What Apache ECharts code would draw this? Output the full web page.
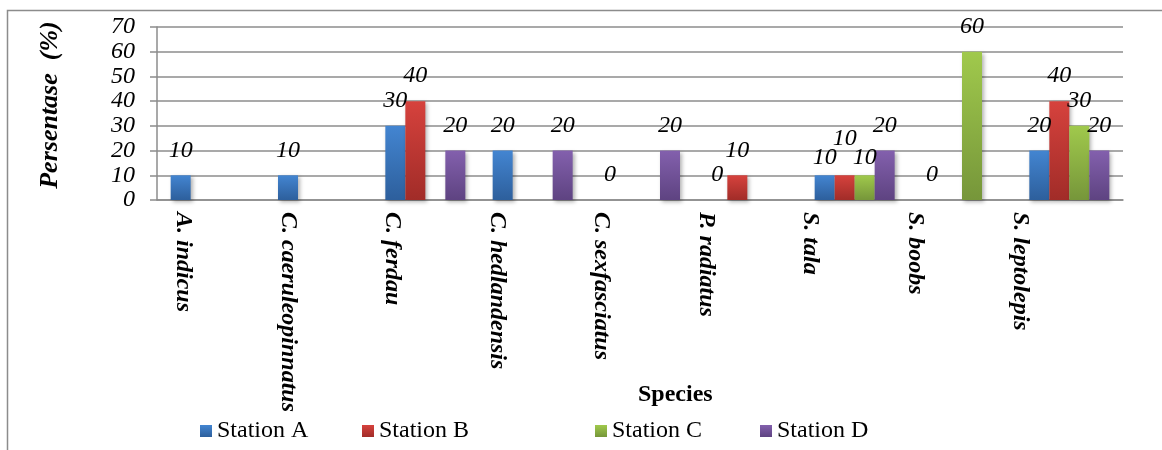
<!DOCTYPE html>
<html>
<head>
<meta charset="utf-8">
<script src="https://cdn.jsdelivr.net/npm/echarts@6/dist/echarts.min.js"></script>
<style>
  html, body { margin: 0; padding: 0; background: #fff; }
  #chart { width: 1162px; height: 450px; }
</style>
</head>
<body>
<div id="chart"></div>
<script>
const species = ['A. indicus', 'C. caeruleopinnatus', 'C. ferdau', 'C. hedlandensis',
  'C. sexfasciatus', 'P. radiatus', 'S. tala', 'S. boobs', 'S. leptolepis']
// null = no bar / no label in the original
const stationA = [10, 10, 30, 20, 0, 0, 10, 0, 20]
const stationB = [null, null, 40, null, null, 10, 10, null, 40]
const stationC = [null, null, null, null, null, null, 10, 60, 30]
const stationD = [null, null, 20, 20, 20, null, 20, null, 20]
const yTicks = [0, 10, 20, 30, 40, 50, 60, 70]

const serif = 'Liberation Serif, Times New Roman, serif'

// colours: [top, bottom] of the gradient
const palette = {
  'Station A': ['#4385d1', '#2d5f9c'],
  'Station B': ['#d6423d', '#a12c28'],
  'Station C': ['#a0c94c', '#76963a'],
  'Station D': ['#8360ad', '#5e4381']
}

// label nudges where the labels of S. tala crowd each other
const labelNudge = {
  'Station A': { 6: [0, 7] },
  'Station B': { 6: [0, -12] },
  'Station C': { 6: [0, 7] }
}

const grad = name => new echarts.graphic.LinearGradient(0, 0, 0, 1, [
  { offset: 0, color: palette[name][0] },
  { offset: 1, color: palette[name][1] }
])

const mkSeries = (name, values) => ({
  name,
  type: 'bar',
  barWidth: 20,
  barGap: '0%',
  data: values.map((v, i) => {
    const nudge = (labelNudge[name] || {})[i]
    return nudge ? { value: v, label: { offset: nudge } } : v
  }),
  itemStyle: {
    color: grad(name),
    shadowColor: 'rgba(0,0,0,0.3)',
    shadowBlur: 4,
    shadowOffsetX: 2,
    shadowOffsetY: 2
  },
  label: {
    show: true,
    position: 'top',
    distance: 13,
    fontFamily: serif,
    fontStyle: 'italic',
    fontSize: 24,
    color: '#000'
  }
})

const legendX = { 'Station A': 200, 'Station B': 362, 'Station C': 595, 'Station D': 760 }

const chart = echarts.init(document.getElementById('chart'))
chart.setOption({
  animation: false,
  backgroundColor: '#fff',
  graphic: [{
    type: 'rect',
    shape: { x: 7.5, y: 10.5, width: 1200, height: 500 },
    style: { fill: 'none', stroke: '#8c8c8c', lineWidth: 1.5 },
    silent: true
  }],
  title: {
    text: 'Species',
    left: 638,
    top: 383,
    padding: 0,
    textStyle: { fontFamily: serif, fontWeight: 'bold', fontSize: 24, color: '#000' }
  },
  // grid 0 holds the bars; grid 1 only carries the species labels,
  // which sit a little off the category centres in the original
  grid: [
    { left: 157, right: 39, top: 27, bottom: 250 },
    { left: 131, right: 90, top: 27, bottom: 250 }
  ],
  legend: Object.keys(legendX).map(name => ({
    data: [{ name, itemStyle: { color: grad(name) } }],
    left: legendX[name],
    top: 419,
    padding: 0,
    itemWidth: 12,
    itemHeight: 12,
    itemGap: 5,
    icon: 'rect',
    textStyle: { fontFamily: serif, fontSize: 24, color: '#000' }
  })),
  xAxis: [{
    type: 'category',
    gridIndex: 0,
    data: species,
    axisLine: { lineStyle: { color: '#8c8c8c', width: 1.5 } },
    axisTick: { show: false },
    axisLabel: { show: false }
  }, {
    type: 'category',
    gridIndex: 1,
    data: species,
    axisLine: { show: false },
    axisTick: { show: false },
    axisLabel: {
      rotate: -90,
      margin: 12,
      interval: 0,
      fontFamily: serif,
      fontStyle: 'italic',
      fontWeight: 'bold',
      fontSize: 24,
      color: '#000'
    }
  }],
  yAxis: [{
    type: 'value',
    gridIndex: 0,
    min: 0,
    max: 70,
    interval: 10,
    name: 'Persentase  (%)',
    nameLocation: 'middle',
    nameGap: 94,
    nameTextStyle: {
      fontFamily: serif, fontWeight: 'bold', fontStyle: 'italic', fontSize: 26, color: '#000',
      padding: [0, 0, 0, 17]
    },
    axisLine: { show: true, lineStyle: { color: '#8c8c8c', width: 1.5 } },
    axisTick: { show: true, length: 7, lineStyle: { color: '#8c8c8c', width: 1.5 } },
    splitLine: { lineStyle: { color: '#8c8c8c', width: 1.5 } },
    axisLabel: {
      margin: 22,
      fontFamily: serif,
      fontStyle: 'italic',
      fontSize: 24,
      color: '#000',
      formatter: v => yTicks.includes(v) ? String(v) : ''
    }
  }, {
    type: 'value',
    gridIndex: 1,
    show: false
  }],
  series: [
    mkSeries('Station A', stationA),
    mkSeries('Station B', stationB),
    mkSeries('Station C', stationC),
    mkSeries('Station D', stationD)
  ]
})
</script>
</body>
</html>
